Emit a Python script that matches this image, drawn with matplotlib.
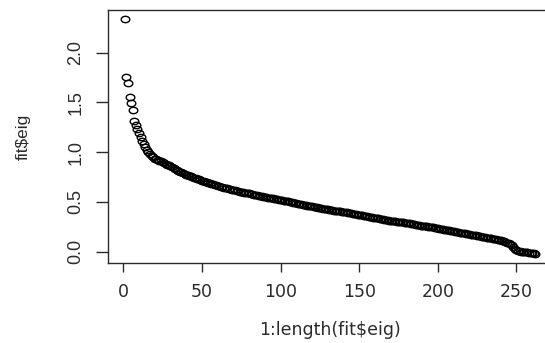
import numpy as np
import matplotlib
matplotlib.use("Agg")
import matplotlib.pyplot as plt
from matplotlib.path import Path
from matplotlib.transforms import Affine2D

# eigenvalues, one per index (1..262)
eig = [
    2.333, 1.76, 1.69, 1.55, 1.49, 1.42, 1.31, 1.27, 1.23, 1.19,
    1.15, 1.11, 1.08, 1.05, 1.02, 1.00, 0.98, 0.965, 0.95, 0.935,
    0.928, 0.921, 0.914, 0.907, 0.90, 0.892, 0.884, 0.876, 0.868, 0.86,
    0.85, 0.84, 0.83, 0.82, 0.81, 0.803, 0.796, 0.789, 0.782, 0.775,
    0.769, 0.763, 0.757, 0.751, 0.745, 0.739, 0.733, 0.727, 0.721, 0.715,
    0.71, 0.705, 0.70, 0.695, 0.69, 0.684, 0.678, 0.672, 0.666, 0.66,
    0.656, 0.652, 0.648, 0.644, 0.64, 0.636, 0.632, 0.628, 0.624, 0.62,
    0.616, 0.612, 0.608, 0.604, 0.60, 0.597, 0.594, 0.591, 0.588, 0.585,
    0.581, 0.577, 0.573, 0.569, 0.565, 0.562, 0.559, 0.556, 0.553, 0.55,
    0.547, 0.544, 0.541, 0.538, 0.535, 0.532, 0.529, 0.526, 0.523, 0.52,
    0.517, 0.514, 0.511, 0.508, 0.505, 0.501, 0.497, 0.493, 0.489, 0.485,
    0.482, 0.479, 0.476, 0.473, 0.47, 0.467, 0.464, 0.461, 0.458, 0.455,
    0.452, 0.449, 0.446, 0.443, 0.44, 0.437, 0.434, 0.431, 0.428, 0.425,
    0.422, 0.419, 0.416, 0.413, 0.41, 0.408, 0.406, 0.404, 0.402, 0.40,
    0.397, 0.394, 0.391, 0.388, 0.385, 0.382, 0.379, 0.376, 0.373, 0.37,
    0.367, 0.364, 0.361, 0.358, 0.355, 0.352, 0.349, 0.346, 0.343, 0.34,
    0.337, 0.334, 0.331, 0.328, 0.325, 0.322, 0.319, 0.316, 0.313, 0.31,
    0.308, 0.306, 0.304, 0.302, 0.30, 0.298, 0.296, 0.294, 0.292, 0.29,
    0.287, 0.284, 0.281, 0.278, 0.275, 0.272, 0.269, 0.266, 0.263, 0.26,
    0.258, 0.256, 0.254, 0.252, 0.25, 0.247, 0.244, 0.241, 0.238, 0.235,
    0.232, 0.229, 0.226, 0.223, 0.22, 0.217, 0.214, 0.211, 0.208, 0.205,
    0.202, 0.199, 0.196, 0.193, 0.19, 0.187, 0.184, 0.181, 0.178, 0.175,
    0.172, 0.169, 0.166, 0.163, 0.16, 0.157, 0.154, 0.151, 0.148, 0.145,
    0.142, 0.139, 0.136, 0.133, 0.13, 0.127, 0.124, 0.121, 0.118, 0.115,
    0.11, 0.104, 0.098, 0.092, 0.085, 0.075, 0.065, 0.05, 0.03, 0.015,
    0.008, 0.004, 0.002, 0.0, -0.002, -0.004, -0.006, -0.008, -0.01, -0.013,
    -0.016, -0.02,
]
idx = np.arange(1, len(eig) + 1)

x_ticks = [0, 50, 100, 150, 200, 250]
y_ticks = [0.0, 0.5, 1.0, 1.5, 2.0]
y_tick_labels = ["0.0", "0.5", "1.0", "1.5", "2.0"]

ink = "#2b2b2b"

fig = plt.figure(figsize=(5.45, 3.43), dpi=100)
# the plot box runs past the right edge of the picture
ax = fig.add_axes([0.199, 0.233, 0.8134, 0.7376])

# slightly wide circle, the reference is stretched sideways
ellipse = Path.unit_circle().transformed(Affine2D().scale(1.35, 1.0))
ax.plot(idx, eig, linestyle="none", marker=ellipse, markersize=6.2,
        markerfacecolor="none", markeredgecolor="black", markeredgewidth=1.0)

# R style 4% padding
xr = idx.max() - idx.min()
yr = max(eig) - min(eig)
ax.set_xlim(idx.min() - 0.04 * xr, idx.max() + 0.04 * xr)
ax.set_ylim(min(eig) - 0.04 * yr, max(eig) + 0.04 * yr)

for s in ax.spines.values():
    s.set_color(ink)
    s.set_linewidth(1.0)

ax.set_xticks(x_ticks)
ax.set_xticklabels([str(t) for t in x_ticks], fontsize=12.5, color=ink,
                   family="DejaVu Sans")
ax.set_yticks(y_ticks)
ax.set_yticklabels(y_tick_labels, rotation=90, va="center", fontsize=13,
                   color=ink, family="Liberation Sans")
ax.tick_params(axis="x", direction="out", length=6.5, width=1.0, color=ink, pad=8)
ax.tick_params(axis="y", direction="out", length=8.4, width=1.0, color=ink, pad=9)

ax.set_xlabel("1:length(fit$eig)", fontsize=12.5, color=ink,
              family="DejaVu Sans", labelpad=14)
ax.set_ylabel("fit$eig", fontsize=12.5, color=ink,
              family="Liberation Sans", labelpad=26)

fig.savefig("out.png", dpi=100)
